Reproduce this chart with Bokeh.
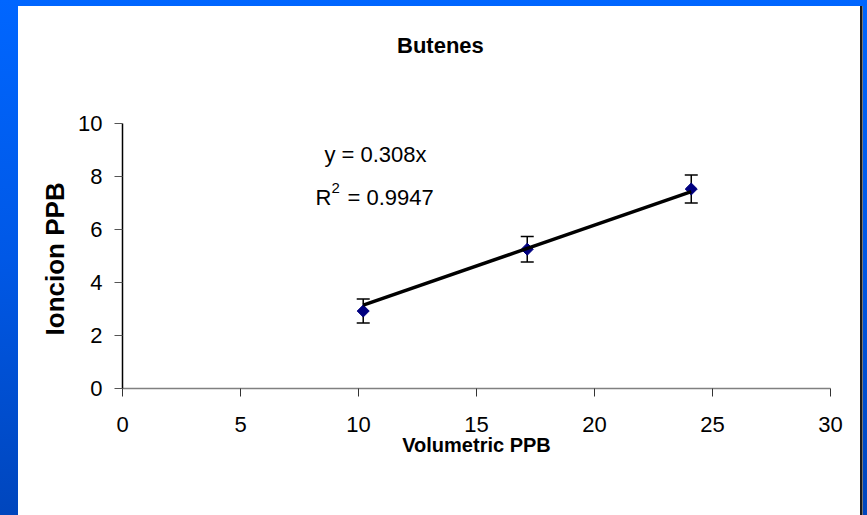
from math import pi
from bokeh.plotting import figure
from bokeh.models import Range1d, FixedTicker, Label
from bokeh.embed import file_html
from bokeh.resources import INLINE

# ---- data ----
volumetric_ppb = [10.2, 17.15, 24.1]
ioncion_ppb = [2.92, 5.25, 7.52]
error_ppb = [0.45, 0.48, 0.53]
slope = 0.308
r_squared = 0.9947
x_ticks = [0, 5, 10, 15, 20, 25, 30]
y_ticks = [0, 2, 4, 6, 8, 10]
title_text = "Butenes"
x_label_text = "Volumetric PPB"
y_label_text = "Ioncion PPB"

FONT = "Liberation Sans"

# the frame extends above the y axis (to 14.4) so the chart title sits inside it
p = figure(width=842, height=509, title=None,
           x_range=Range1d(0, 30), y_range=Range1d(0, 14.4),
           output_backend="svg", toolbar_location=None,
           min_border_left=104, min_border_right=30,
           min_border_top=0, min_border_bottom=127)
p.xgrid.visible = False
p.ygrid.visible = False
p.outline_line_color = None
p.border_fill_color = "white"
p.background_fill_color = "white"
p.styles = {"background": "white",
            "box-shadow": "-2px 0 0 0 #1a1a1a, 2px 0 0 0 #1a1a1a, 0 -2px 0 0 #1a1a1a, 3px 0 0 0 #777"}

xa = p.xaxis[0]
xa.ticker = FixedTicker(ticks=x_ticks)
xa.minor_tick_line_color = None
xa.axis_line_color = "#808080"
xa.axis_line_width = 1.5
xa.major_tick_line_color = "#333333"
xa.major_tick_out = 8
xa.major_tick_in = 0
xa.major_label_text_font = FONT
xa.major_label_text_font_size = "22px"
xa.major_label_text_color = "black"
xa.major_label_standoff = 20
xa.axis_label = x_label_text
xa.axis_label_text_font = FONT
xa.axis_label_text_font_size = "20px"
xa.axis_label_text_font_style = "bold"
xa.axis_label_text_color = "black"
xa.axis_label_standoff = -1

ya = p.yaxis[0]
ya.ticker = FixedTicker(ticks=y_ticks)
ya.bounds = (0, 10)
ya.minor_tick_line_color = None
ya.axis_line_color = "black"
ya.axis_line_width = 1.5
ya.major_tick_line_color = "#555555"
ya.major_tick_out = 8
ya.major_tick_in = 0
ya.major_label_text_font = FONT
ya.major_label_text_font_size = "22px"
ya.major_label_text_color = "black"
ya.major_label_standoff = 12
# trailing no-break spaces keep the label centred on the 0-10 part of the axis
ya.axis_label = y_label_text + "\u00a0" * 17
ya.axis_label_text_font = FONT
ya.axis_label_text_font_size = "26px"
ya.axis_label_text_font_style = "bold"
ya.axis_label_text_color = "black"
ya.axis_label_standoff = 5

# error bars
lower = [v - e for v, e in zip(ioncion_ppb, error_ppb)]
upper = [v + e for v, e in zip(ioncion_ppb, error_ppb)]
p.segment(x0=volumetric_ppb, y0=lower, x1=volumetric_ppb, y1=upper,
          line_color="black", line_width=1.5)
p.scatter(x=volumetric_ppb + volumetric_ppb, y=lower + upper, marker="dash",
          size=13, line_color="black", line_width=1.5)

# data points
p.scatter(x=volumetric_ppb, y=ioncion_ppb, marker="square", angle=pi / 4,
          size=8.5, fill_color="#000080", line_color="#000080")

# trend line y = slope * x over the data range
tx = [min(volumetric_ppb), max(volumetric_ppb)]
ty = [slope * v for v in tx]
p.line(x=tx, y=ty, line_color="black", line_width=3.5)

# chart title
p.add_layout(Label(x=13.47, y=12.93, text=title_text, text_font=FONT,
                   text_font_size="22px", text_font_style="bold",
                   text_align="center", text_baseline="middle",
                   text_color="black"))

# trend-line equation
p.add_layout(Label(x=10.72, y=8.81, text="y = %.3fx" % slope, text_font=FONT,
                   text_font_size="22px", text_align="center",
                   text_baseline="middle", text_color="black"))
p.add_layout(Label(x=8.18, y=7.19, text="R", text_font=FONT,
                   text_font_size="22px", text_align="left",
                   text_baseline="alphabetic", text_color="black"))
p.add_layout(Label(x=8.18, y=7.57, x_offset=16, text="2", text_font=FONT,
                   text_font_size="15px", text_align="left",
                   text_baseline="alphabetic", text_color="black"))
p.add_layout(Label(x=8.18, y=7.19, x_offset=32, text="= %.4f" % r_squared,
                   text_font=FONT, text_font_size="22px", text_align="left",
                   text_baseline="alphabetic", text_color="black"))

html = file_html(p, INLINE, title=title_text)
head, sep, rest = html.partition("</head>")
rest = rest.replace(
    "<body>",
    '<body style="margin:6px 0 0 18px; overflow:hidden; '
    'background:linear-gradient(to bottom, #0066ff 0%, #0058e6 50%, #0046bd 100%);">',
    1)
open("out.html", "w").write(head + sep + rest)
